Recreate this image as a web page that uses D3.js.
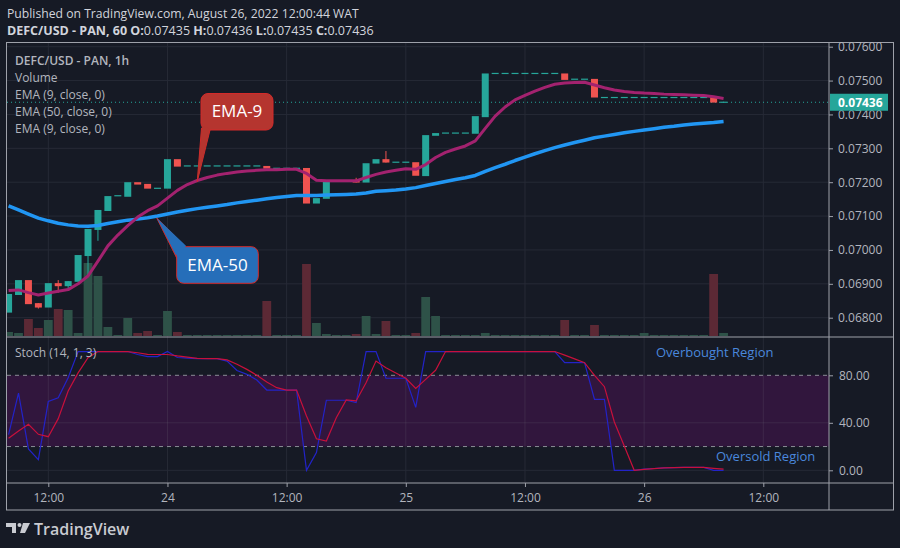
<!DOCTYPE html>
<html><head><meta charset="utf-8">
<script src="https://cdn.jsdelivr.net/npm/d3@7"></script>
<style>
html,body{margin:0;padding:0;background:#161a25;}
svg{display:block;font-family:"Open Sans",sans-serif;}
</style></head><body><svg id="c" width="900" height="548"></svg>
<script>
// ---------------- DATA ----------------
const startTime = Date.UTC(2022, 7, 23, 8); // first hourly candle (Aug 23, 08:00)
const opens = [0.06815,0.06867,0.06911,0.06843,0.06830,0.06902,0.06893,0.06906,0.06982,0.07059,
0.07115,0.07159,0.07157,0.07200,0.07195,0.07182,0.07181,0.07268,0.07248,0.07248,
0.07248,0.07248,0.07248,0.07248,0.07248,0.07248,0.07248,0.07241,0.07241,0.07241,
0.07242,0.07137,0.07151,0.07203,0.07203,0.07205,0.07199,0.07255,0.07268,0.07259,
0.07259,0.07259,0.07218,0.07337,0.07345,0.07345,0.07345,0.07343,0.07392,0.07521,
0.07521,0.07521,0.07521,0.07521,0.07521,0.07521,0.07521,0.07504,0.07504,0.07505,
0.07450,0.07450,0.07450,0.07450,0.07450,0.07450,0.07450,0.07450,0.07450,0.07450,
0.07450,0.07451,0.07435];
const highs = [0.06870,0.06911,0.06911,0.06843,0.06902,0.06911,0.06908,0.06985,0.07062,0.07118,
0.07159,0.07160,0.07200,0.07200,0.07195,0.07182,0.07268,0.07268,0.07248,0.07248,
0.07248,0.07248,0.07248,0.07248,0.07248,0.07248,0.07248,0.07241,0.07241,0.07241,
0.07242,0.07153,0.07203,0.07203,0.07203,0.07213,0.07256,0.07268,0.07292,0.07259,
0.07259,0.07259,0.07339,0.07345,0.07345,0.07345,0.07345,0.07395,0.07521,0.07521,
0.07521,0.07521,0.07521,0.07521,0.07521,0.07521,0.07521,0.07504,0.07504,0.07505,
0.07450,0.07450,0.07450,0.07450,0.07450,0.07450,0.07450,0.07450,0.07450,0.07450,
0.07450,0.07451,0.07436];
const lows = [0.06815,0.06867,0.06840,0.06827,0.06830,0.06874,0.06880,0.06906,0.06923,0.07027,
0.07115,0.07159,0.07157,0.07193,0.07181,0.07182,0.07181,0.07246,0.07248,0.07248,
0.07248,0.07248,0.07248,0.07248,0.07248,0.07248,0.07240,0.07241,0.07241,0.07241,
0.07137,0.07137,0.07151,0.07203,0.07203,0.07199,0.07199,0.07255,0.07258,0.07259,
0.07259,0.07219,0.07218,0.07337,0.07345,0.07345,0.07345,0.07343,0.07392,0.07521,
0.07521,0.07521,0.07521,0.07521,0.07521,0.07521,0.07502,0.07504,0.07504,0.07450,
0.07450,0.07450,0.07450,0.07450,0.07450,0.07450,0.07450,0.07450,0.07450,0.07450,
0.07450,0.07435,0.07435];
const closes = [0.06870,0.06911,0.06840,0.06830,0.06902,0.06893,0.06908,0.06985,0.07062,0.07118,
0.07159,0.07160,0.07200,0.07193,0.07181,0.07182,0.07268,0.07246,0.07248,0.07248,
0.07248,0.07248,0.07248,0.07248,0.07248,0.07248,0.07240,0.07241,0.07241,0.07241,
0.07137,0.07153,0.07203,0.07203,0.07203,0.07199,0.07256,0.07268,0.07258,0.07259,
0.07259,0.07219,0.07339,0.07345,0.07345,0.07345,0.07345,0.07395,0.07521,0.07521,
0.07521,0.07521,0.07521,0.07521,0.07521,0.07521,0.07502,0.07504,0.07504,0.07450,
0.07450,0.07450,0.07450,0.07450,0.07450,0.07450,0.07450,0.07450,0.07450,0.07450,
0.07450,0.07435,0.07436];
const volumes = [4,3,17,8,16,27,26,3,73,60,
9,1,18,3,5,1,25,4,1,1,
1,1,1,1,1,1,35,1,1,1,
72,13,2,1,1,2,20,2,15,1,
1,3,39,20,1,1,1,1,3,1,
1,1,1,1,1,1,16,1,1,11,
1,1,1,1,3,1,1,1,1,1,
1,62,3];
const ema9 = [0.06880,0.06882,0.06874,0.06867,0.06873,0.06878,0.06883,0.06900,0.06923,0.06967,
0.07012,0.07044,0.07072,0.07097,0.07116,0.07130,0.07153,0.07176,0.07193,0.07205,
0.07214,0.07221,0.07226,0.07230,0.07233,0.07235,0.07237,0.07237,0.07238,0.07238,
0.07226,0.07206,0.07204,0.07204,0.07204,0.07204,0.07214,0.07223,0.07230,0.07235,
0.07240,0.07238,0.07252,0.07273,0.07288,0.07298,0.07307,0.07322,0.07359,0.07395,
0.07422,0.07443,0.07456,0.07469,0.07480,0.07489,0.07493,0.07494,0.07495,0.07487,
0.07479,0.07472,0.07468,0.07465,0.07463,0.07462,0.07460,0.07459,0.07458,0.07457,
0.07456,0.07452,0.07447];
const ema50 = [0.07130,0.07118,0.07106,0.07094,0.07086,0.07079,0.07074,0.07071,0.07070,0.07072,
0.07078,0.07083,0.07088,0.07091,0.07095,0.07100,0.07106,0.07112,0.07117,0.07122,
0.07126,0.07130,0.07134,0.07139,0.07143,0.07147,0.07151,0.07155,0.07158,0.07161,
0.07161,0.07161,0.07162,0.07163,0.07164,0.07165,0.07168,0.07173,0.07175,0.07177,
0.07180,0.07184,0.07190,0.07196,0.07202,0.07208,0.07213,0.07220,0.07232,0.07243,
0.07253,0.07264,0.07274,0.07284,0.07293,0.07302,0.07310,0.07317,0.07324,0.07331,
0.07336,0.07341,0.07346,0.07350,0.07354,0.07358,0.07362,0.07365,0.07369,0.07372,
0.07374,0.07376,0.07379];
const stochK = [30,65,18,9,58,61,78,100,100,100,
100,100,100,97.5,95.7,95.7,100,95,94.5,94,
94,94,92,84,80.8,76,67.6,67.6,67.6,67.6,
0,15,59,59,59,57,100,100,77.5,77.5,
77.5,53,100,100,100,100,100,100,100,100,
100,100,100,100,100,100,90.6,90.6,90.6,59.8,
59.8,0,0,0,1,1.5,2,2.2,2.4,2.5,
2.5,0,0];
const stochD = [27,33,38.7,30.3,28.3,43.5,66.8,82,94.8,100,
100,100,100,99,97.7,97.5,97.5,96.3,95.3,94.3,
94,94,93,89.3,85,80,74.4,69.6,67.6,67.6,
45.7,26.6,24.7,44.3,59.2,58.4,73.8,92,86.4,82,
77.5,69,76.6,84.2,100,100,100,100,100,100,
100,100,100,100,100,100,97,93.8,90.6,80,
70.4,40.7,20.5,0,0.8,1.4,2,2.2,2.4,2.5,
2.5,1.7,1];
const priceTicks = [0.068,0.069,0.070,0.071,0.072,0.073,0.074,0.075,0.076];
const stochTicks = [0,40,80];
const timeTicks = [Date.UTC(2022,7,23,12),Date.UTC(2022,7,24,0),Date.UTC(2022,7,24,12),
  Date.UTC(2022,7,25,0),Date.UTC(2022,7,25,12),Date.UTC(2022,7,26,0),Date.UTC(2022,7,26,12)];
const timeTickLabels = ["12:00","24","12:00","25","12:00","26","12:00"];
const lastPrice = 0.07436;
const legendLines = ["DEFC/USD - PAN, 1h","Volume","EMA (9, close, 0)","EMA (50, close, 0)","EMA (9, close, 0)"];

// ---------------- LAYOUT ----------------
const L = 7, R = 829, OUTR = 893;
const mainTop = 43, mainBot = 337, stTop = 337, stBot = 483, axBot = 510;
const BG = "#161a25", GRID = "#262a36", FRAME = "#9ea1aa", TXT = "#b2b5be";
const UP = "#26a69a", DN = "#ef5350";

const times = opens.map((d,i)=> new Date(startTime + i*3600000));
const svg = d3.select("#c");
svg.append("rect").attr("width",900).attr("height",548).attr("fill",BG);

const x = d3.scaleUtc().domain([new Date(timeTicks[0]), new Date(timeTicks[6])]).range([48.3, 763.3]);
const y = d3.scaleLinear().domain([0.068,0.076]).range([317.7,46.7]);
const yv = d3.scaleLinear().domain([0,100]).range([336,236]);
const ys = d3.scaleLinear().domain([0,100]).range([470.3,351.55]);

const defs = svg.append("defs");
defs.append("clipPath").attr("id","cm").append("rect").attr("x",L).attr("y",mainTop).attr("width",R-L).attr("height",mainBot-mainTop);
defs.append("clipPath").attr("id","cs").append("rect").attr("x",L).attr("y",stTop).attr("width",R-L).attr("height",stBot-stTop);

// grid
const grid = svg.append("g");
timeTicks.forEach(t=>{
  grid.append("line").attr("x1",x(new Date(t))).attr("x2",x(new Date(t))).attr("y1",mainTop).attr("y2",stBot).attr("stroke",GRID).attr("stroke-width",1);
});
priceTicks.forEach(p=>{
  grid.append("line").attr("x1",L).attr("x2",R).attr("y1",y(p)).attr("y2",y(p)).attr("stroke",GRID);
});

// stoch band
svg.append("rect").attr("x",L).attr("width",R-L).attr("y",ys(80)).attr("height",ys(20)-ys(80)).attr("fill","#31163d");
[0,40].forEach(v=>grid.append("line").attr("x1",L).attr("x2",R).attr("y1",ys(v)).attr("y2",ys(v)).attr("stroke",GRID));
[80,20].forEach(v=>svg.append("line").attr("x1",L).attr("x2",R).attr("y1",ys(v)).attr("y2",ys(v))
  .attr("stroke","#8a8d96").attr("stroke-dasharray","4,4"));
svg.append("line").attr("x1",L).attr("x2",R).attr("y1",ys(40)).attr("y2",ys(40)).attr("stroke","rgba(120,123,134,0.18)");
timeTicks.forEach(t=>{
  svg.append("line").attr("x1",x(new Date(t))).attr("x2",x(new Date(t))).attr("y1",ys(80)).attr("y2",ys(20)).attr("stroke","rgba(120,123,134,0.18)");
});

const main = svg.append("g").attr("clip-path","url(#cm)");
// volume
main.selectAll(".vol").data(volumes).join("rect")
  .attr("x",(d,i)=>x(times[i])-4.4).attr("width",8.8)
  .attr("y",d=>yv(d)).attr("height",d=>Math.max(1,yv(0)-yv(d)))
  .attr("fill",(d,i)=> closes[i]>=opens[i] ? "#2e5248" : "#5c2935");

// last price dotted line
main.append("line").attr("x1",L).attr("x2",R).attr("y1",y(lastPrice)).attr("y2",y(lastPrice))
  .attr("stroke",UP).attr("stroke-dasharray","1,3").attr("stroke-width",1);

// candles
const cg = main.append("g");
opens.forEach((o,i)=>{
  const c = closes[i], col = c>=o ? UP : DN, cx = x(times[i]);
  if (highs[i] > Math.max(o,c) || lows[i] < Math.min(o,c))
    cg.append("line").attr("x1",cx).attr("x2",cx).attr("y1",y(highs[i])).attr("y2",y(lows[i])).attr("stroke",col).attr("stroke-width",1);
  const top = y(Math.max(o,c)), h = Math.abs(y(o)-y(c));
  cg.append("rect").attr("x",cx-3.5).attr("width",7).attr("y",h<1.2? top-0.6: top).attr("height",Math.max(1.2,h)).attr("fill",col);
});

// EMA lines
const line = d3.line().x((d,i)=>x(times[i])).y(d=>y(d));
main.append("path").datum(ema50).attr("d",line).attr("fill","none").attr("stroke","#2196f3").attr("stroke-width",3.5).attr("stroke-linejoin","round");
main.append("path").datum(ema9).attr("d",line).attr("fill","none").attr("stroke","#a3226f").attr("stroke-width",3).attr("stroke-linejoin","round");

// stoch lines
const st = svg.append("g").attr("clip-path","url(#cs)");
const sline = d3.line().x((d,i)=>x(times[i])).y(d=>ys(d));
st.append("path").datum(stochK).attr("d",sline).attr("fill","none").attr("stroke","#2323c8").attr("stroke-width",1.2);
st.append("path").datum(stochD).attr("d",sline).attr("fill","none").attr("stroke","#c8103c").attr("stroke-width",1.2);

// callouts
function callout(bx,by,bw,bh,tip,b1,b2,fill,label,tx,ty){
  const g = svg.append("g");
  g.append("path").attr("d",`M${b1[0]},${b1[1]}L${tip[0]},${tip[1]}L${b2[0]},${b2[1]}Z`).attr("fill",fill).attr("stroke","#d42a2a").attr("stroke-width",1);
  g.append("rect").attr("x",bx).attr("y",by).attr("width",bw).attr("height",bh).attr("rx",7).attr("fill",fill).attr("stroke","#d42a2a").attr("stroke-width",1);
  g.append("path").attr("d",`M${b1[0]+ (b1[0]<b2[0]?0.8:0)},${b1[1]-1.5}L${tip[0]},${tip[1]}L${b2[0]},${b2[1]-1.5}Z`).attr("fill",fill);
  g.append("text").attr("x",tx).attr("y",ty).attr("text-anchor","middle").attr("fill","#ffffff").attr("font-size",17).text(label);
}
const tip9 = [x(times[19]), y(ema9[19])+1];
callout(201,93.5,72,36.5,tip9,[201.5,128],[210,130],"#b5352f","EMA-9",237,117);
const tip50 = [x(times[15])-0.8, y(ema50[15])+2];
callout(176.7,246.7,81.6,36.6,tip50,[177.2,259],[186,247.2],"#266eb9","EMA-50",217.5,271);

// frame lines
const fr = svg.append("g").attr("stroke",FRAME).attr("stroke-width",1).attr("fill","none");
fr.append("rect").attr("x",L-0.5).attr("y",mainTop-0.5).attr("width",OUTR-L+1).attr("height",axBot-mainTop+0.5);
fr.append("line").attr("x1",L).attr("x2",OUTR).attr("y1",stTop).attr("y2",stTop);
fr.append("line").attr("x1",L).attr("x2",OUTR).attr("y1",stBot).attr("y2",stBot);
fr.append("line").attr("x1",R).attr("x2",R).attr("y1",mainTop).attr("y2",axBot);

// price axis
const pa = svg.append("g").attr("transform",`translate(${R},0)`)
  .call(d3.axisRight(y).tickValues(priceTicks).tickFormat(d3.format(".5f")).tickSize(4).tickPadding(5));
pa.select(".domain").remove();
pa.selectAll("line").attr("stroke",FRAME);
pa.selectAll("text").attr("fill",TXT).attr("font-size",12).attr("font-family","Open Sans");

// stoch axis
const sa = svg.append("g").attr("transform",`translate(${R},0)`)
  .call(d3.axisRight(ys).tickValues(stochTicks).tickFormat(d3.format(".2f")).tickSize(4).tickPadding(6));
sa.select(".domain").remove();
sa.selectAll("line").attr("stroke",FRAME);
sa.selectAll("text").attr("fill",TXT).attr("font-size",12).attr("font-family","Open Sans");

// time axis
const ta = svg.append("g").attr("transform",`translate(0,${stBot})`)
  .call(d3.axisBottom(x).tickValues(timeTicks.map(t=>new Date(t))).tickFormat((d,i)=>timeTickLabels[i]).tickSize(4).tickPadding(6));
ta.select(".domain").remove();
ta.selectAll("line").attr("stroke",FRAME);
ta.selectAll("text").attr("fill",TXT).attr("font-size",12).attr("font-family","Open Sans");

// last price label
svg.append("rect").attr("x",R+1).attr("y",y(lastPrice)-8.5).attr("width",58).attr("height",17).attr("fill",UP);
svg.append("text").attr("x",R+9).attr("y",y(lastPrice)+4.5).attr("fill","#fff").attr("font-size",12).attr("font-weight",700).text(d3.format(".5f")(lastPrice));

// header
svg.append("text").attr("x",7).attr("y",18).attr("fill","#d1d4dc").attr("font-size",12.2)
  .text("Published on TradingView.com, August 26, 2022 12:00:44 WAT");
const h2 = svg.append("text").attr("x",7).attr("y",35).attr("fill","#d1d4dc").attr("font-size",12.5);
h2.append("tspan").attr("font-weight",700).text("DEFC/USD - PAN, 60 ");
[["O:",opens[72]],["H:",highs[72]],["L:",lows[72]],["C:",closes[72]]].forEach(([k,v])=>{
  h2.append("tspan").attr("font-weight",700).text(" "+k);
  h2.append("tspan").text(d3.format(".5f")(v));
});

// legend
legendLines.forEach((t,i)=>{
  svg.append("text").attr("x",15).attr("y",65+i*17).attr("fill",TXT).attr("font-size",12)
    .attr("font-weight",i===0?600:400).text(t);
});
svg.append("text").attr("x",15).attr("y",357).attr("fill",TXT).attr("font-size",12).text("Stoch (14, 1, 3)");
svg.append("text").attr("x",656).attr("y",357).attr("fill","#4a88dc").attr("font-size",13).text("Overbought Region");
svg.append("text").attr("x",716).attr("y",461).attr("fill","#4a88dc").attr("font-size",13).text("Oversold Region");

// TradingView logo
const lg = svg.append("g").attr("fill","#c9cbd1");
lg.append("path").attr("d","M6,523 H16 V533 H12 V527 H6 Z");
lg.append("circle").attr("cx",19.5).attr("cy",525).attr("r",2);
lg.append("path").attr("d","M23,523 H30 L25,533 H20 Z");
lg.append("text").attr("x",34).attr("y",535).attr("font-size",16).attr("font-weight",600).attr("fill","#c9cbd1").text("TradingView");
</script></body></html>
